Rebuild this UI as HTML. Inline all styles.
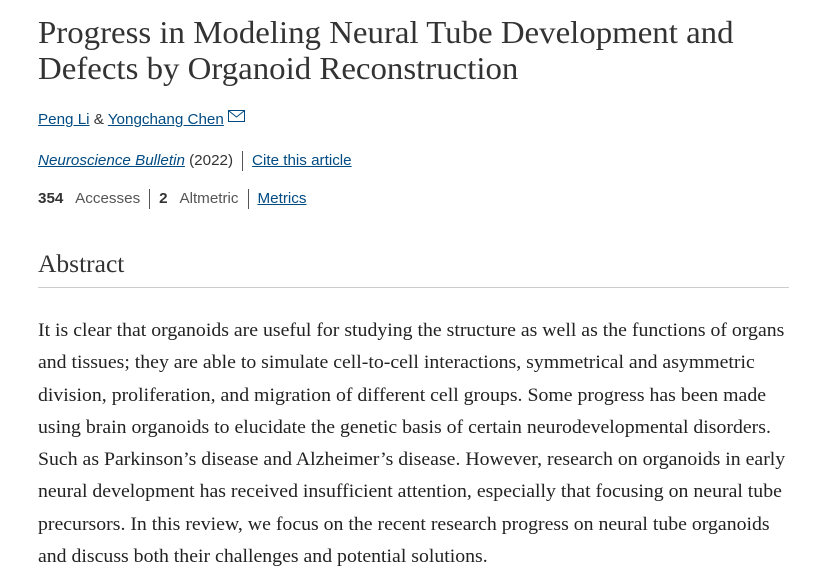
<!DOCTYPE html>
<html><head><style>
body{margin:0;background:#fff;width:827px;height:582px;overflow:hidden;font-family:"Liberation Serif",serif;color:#222}
.t{position:absolute;left:38px;top:14px;font-size:32px;line-height:36px;color:#333;white-space:nowrap;transform:scaleX(1.027);transform-origin:0 0}
.s{font-family:"Liberation Sans",sans-serif;font-size:15.2px;color:#333;position:absolute;left:38px;white-space:nowrap}
a{color:#004b83;text-decoration:underline}
.sep{display:inline-block;width:1px;height:20px;background:#555;vertical-align:middle;margin:0 9px}
h2{position:absolute;left:38px;top:249px;margin:0;font-weight:normal;font-size:25.5px;color:#333}
.rule{position:absolute;left:38px;top:287px;width:751px;height:1px;background:#ccc}
.p{position:absolute;left:38px;top:315px;font-size:18.5px;line-height:32.3px;color:#222;white-space:nowrap;transform:scaleX(1.07);transform-origin:0 0}
</style></head><body>
<div class="t">Progress in Modeling Neural Tube Development and<br>Defects by Organoid Reconstruction</div>
<div class="s" style="top:110px"><a>Peng Li</a> &amp; <a>Yongchang Chen</a> <svg width="17" height="12" style="vertical-align:2px"><rect x="0.5" y="0.5" width="16" height="11" fill="none" stroke="#004b83"/><path d="M1 1 L8.5 7 L16 1" fill="none" stroke="#004b83"/></svg></div>
<div class="s" style="top:151px"><a><i>Neuroscience Bulletin</i></a> (2022)<span class="sep"></span><a>Cite this article</a></div>
<div class="s" style="top:189px"><b>354</b>&nbsp;&nbsp; <span style="color:#555">Accesses</span><span class="sep"></span><b>2</b>&nbsp;&nbsp; <span style="color:#555">Altmetric</span><span class="sep"></span><a>Metrics</a></div>
<h2>Abstract</h2>
<div class="rule"></div>
<div class="p">It is clear that organoids are useful for studying the structure as well as the functions of organs<br>and tissues; they are able to simulate cell-to-cell interactions, symmetrical and asymmetric<br>division, proliferation, and migration of different cell groups. Some progress has been made<br>using brain organoids to elucidate the genetic basis of certain neurodevelopmental disorders.<br>Such as Parkinson’s disease and Alzheimer’s disease. However, research on organoids in early<br>neural development has received insufficient attention, especially that focusing on neural tube<br>precursors. In this review, we focus on the recent research progress on neural tube organoids<br>and discuss both their challenges and potential solutions.</div>
</body></html>
